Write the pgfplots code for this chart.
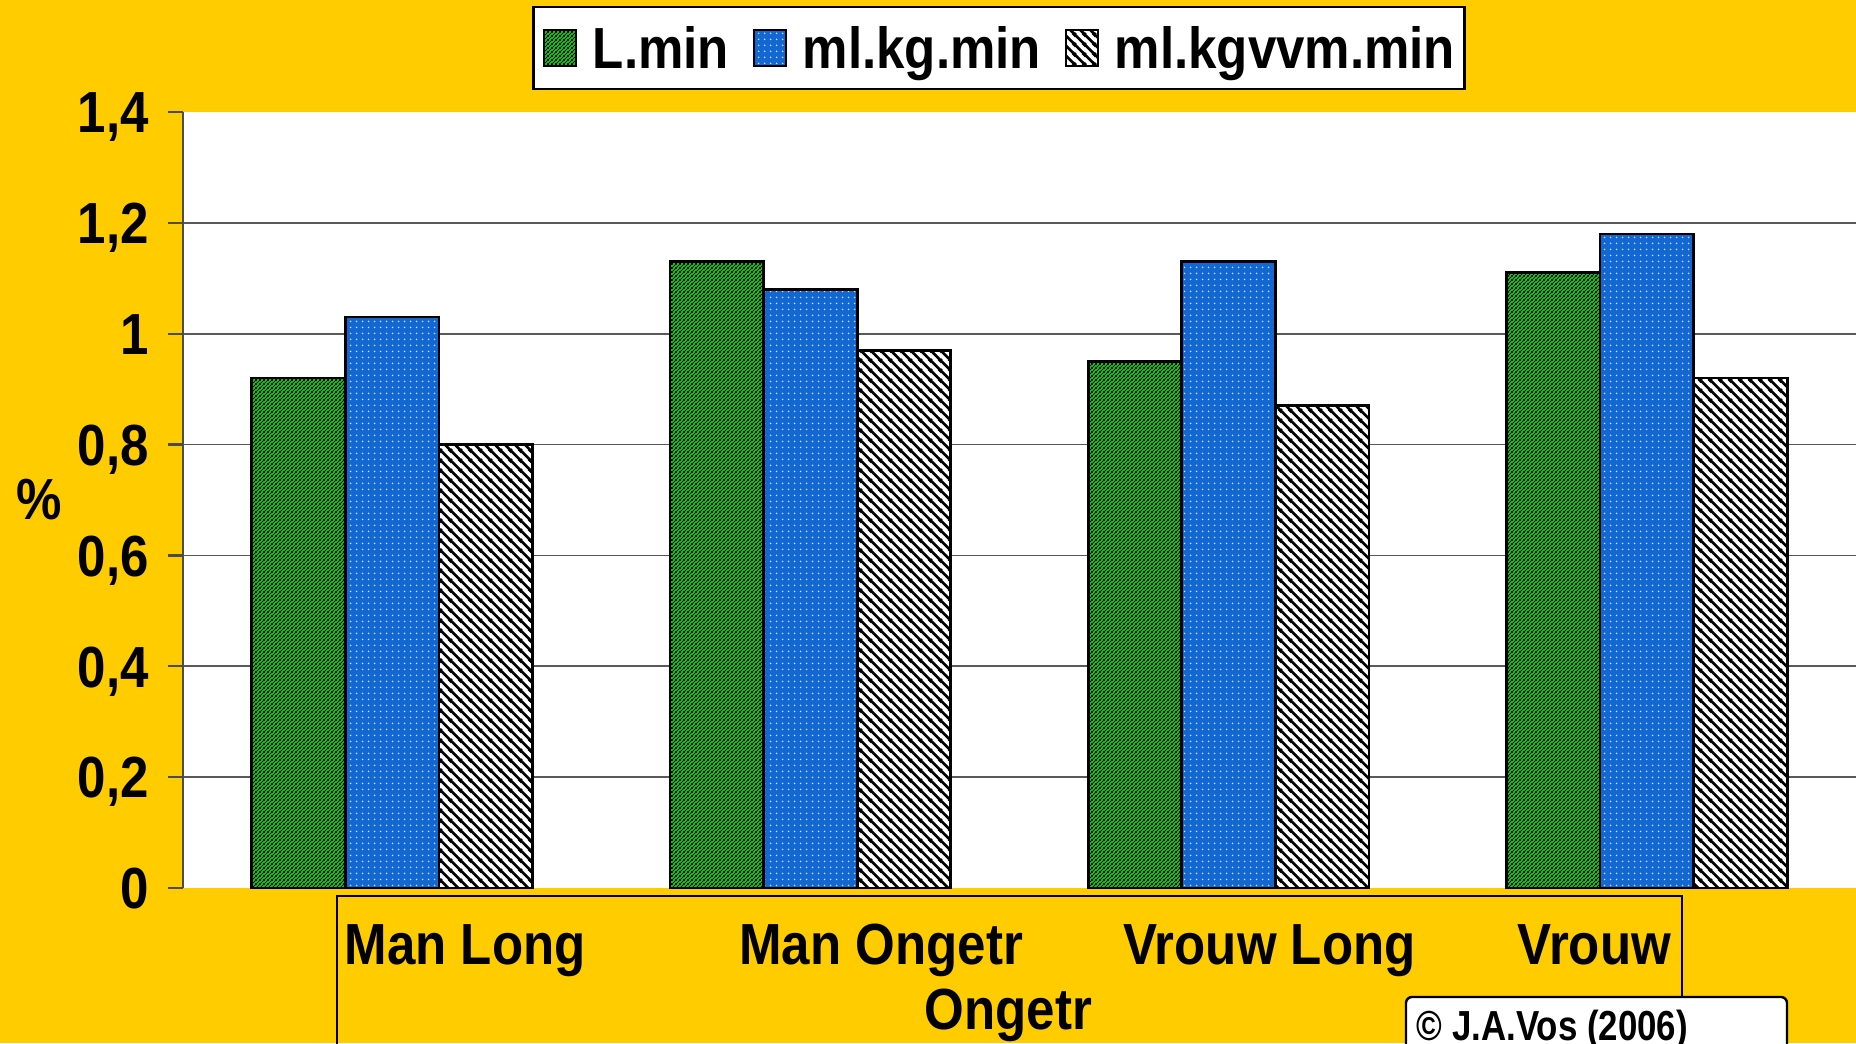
\documentclass[border=0pt]{standalone}
\usepackage{fontspec}
\usepackage{pgfplots}
\pgfplotsset{compat=1.18}
\usetikzlibrary{patterns}
\newfontfamily\lab[FakeStretch=0.88]{Liberation Sans}
\newfontfamily\labc[FakeStretch=0.83]{Liberation Sans}
\newcommand\bigf{\lab\bfseries\fontsize{14.5}{16}\selectfont}
\definecolor{bgy}{RGB}{255,204,0}
\definecolor{grn}{RGB}{20,225,20}
\definecolor{blu}{RGB}{18,104,208}
\pgfdeclarepatternformonly{gstripe}{\pgfqpoint{0pt}{0pt}}{\pgfqpoint{1pt}{1pt}}{\pgfqpoint{1pt}{1pt}}{%
  \pgfsetlinewidth{0.27pt}%
  \pgfpathmoveto{\pgfqpoint{-0.2pt}{-0.2pt}}\pgfpathlineto{\pgfqpoint{1.2pt}{1.2pt}}%
  \pgfpathmoveto{\pgfqpoint{-0.5pt}{0.5pt}}\pgfpathlineto{\pgfqpoint{0.5pt}{1.5pt}}%
  \pgfpathmoveto{\pgfqpoint{0.5pt}{-0.5pt}}\pgfpathlineto{\pgfqpoint{1.5pt}{0.5pt}}%
  \pgfusepath{stroke}}
\pgfdeclarepatternformonly{hstripe}{\pgfqpoint{0pt}{0pt}}{\pgfqpoint{2.4pt}{2.4pt}}{\pgfqpoint{2.4pt}{2.4pt}}{%
  \pgfsetlinewidth{0.7pt}%
  \pgfpathmoveto{\pgfqpoint{-0.3pt}{2.7pt}}\pgfpathlineto{\pgfqpoint{2.7pt}{-0.3pt}}%
  \pgfpathmoveto{\pgfqpoint{-1.2pt}{1.2pt}}\pgfpathlineto{\pgfqpoint{1.2pt}{-1.2pt}}%
  \pgfpathmoveto{\pgfqpoint{1.2pt}{3.6pt}}\pgfpathlineto{\pgfqpoint{3.6pt}{1.2pt}}%
  \pgfusepath{stroke}}
\pgfdeclarepatternformonly{bdots}{\pgfqpoint{0pt}{0pt}}{\pgfqpoint{1.5pt}{1.5pt}}{\pgfqpoint{1.5pt}{1.5pt}}{%
  \pgfpathcircle{\pgfqpoint{0.75pt}{0.75pt}}{0.25pt}%
  \pgfusepath{fill}}
\pgfplotsset{
  gleg/.style={legend image code/.code={\fill[grn] (0pt,-4.5pt) rectangle (8pt,4.5pt); \draw[##1] (0pt,-4.5pt) rectangle (8pt,4.5pt);}},
  bleg/.style={legend image code/.code={\fill[blu] (0pt,-4.5pt) rectangle (8pt,4.5pt); \draw[##1] (0pt,-4.5pt) rectangle (8pt,4.5pt);}},
  wleg/.style={legend image code/.code={\fill[white] (0pt,-4.5pt) rectangle (8pt,4.5pt); \draw[##1] (0pt,-4.5pt) rectangle (8pt,4.5pt);}},
}
\begin{document}
\begin{tikzpicture}
\useasboundingbox (0,0) rectangle (464pt,260.75pt);
\fill[bgy] (0,0) rectangle (464pt,260.75pt);
\begin{axis}[
  at={(45.75pt,38.75pt)}, anchor=south west,
  scale only axis, width=418.25pt, height=194pt,
  xmin=-0.5, xmax=3.5, ymin=0, ymax=1.4,
  axis background/.style={fill=white},
  axis x line=none, axis y line=left,
  axis line style={-, draw=gray!60!black, line width=0.6pt},
  xtick=\empty,
  ytick={0.2,0.4,0.6,0.8,1,1.2},
  extra y ticks={0,1.4},
  extra y tick style={grid=none},
  ymajorgrids, major grid style={gray!70!black, line width=0.45pt},
  tick align=outside, major tick length=3.75pt,
  y tick style={draw=gray!60!black, line width=0.6pt},
  yticklabel style={font=\bigf, anchor=east, inner sep=0pt, xshift=-4.6pt, text height=10.4pt, text depth=0pt,
    /pgf/number format/use comma, /pgf/number format/assume math mode=true},
  legend columns=3,
  legend style={at={(0.4877,1.0825)}, anchor=center, draw=black, line width=0.6pt, fill=white,
    font=\bigf, inner xsep=2.3pt, inner ysep=5pt,
    nodes={inner sep=0pt, text height=10.4pt, text depth=0pt},
    /tikz/every odd column/.append style={column sep=3.85pt},
    /tikz/every even column/.append style={column sep=5.9pt}},
]
% L.min
\addplot[ybar, bar width=23.4pt, bar shift=-23.4pt, fill=grn, draw=none, forget plot]
  coordinates {(0,0.92) (1,1.13) (2,0.95) (3,1.11)};
\addplot[ybar, bar width=23.4pt, bar shift=-23.4pt, pattern=gstripe, pattern color=black, draw=black, line width=0.7pt, gleg]
  coordinates {(0,0.92) (1,1.13) (2,0.95) (3,1.11)};
% ml.kg.min
\addplot[ybar, bar width=23.4pt, bar shift=0pt, fill=blu, draw=none, forget plot]
  coordinates {(0,1.03) (1,1.08) (2,1.13) (3,1.18)};
\addplot[ybar, bar width=23.4pt, bar shift=0pt, pattern=bdots, pattern color=white!80!blu, draw=black, line width=0.7pt, bleg]
  coordinates {(0,1.03) (1,1.08) (2,1.13) (3,1.18)};
% ml.kgvvm.min
\addplot[ybar, bar width=23.4pt, bar shift=23.4pt, fill=white, draw=none, forget plot]
  coordinates {(0,0.80) (1,0.97) (2,0.87) (3,0.92)};
\addplot[ybar, bar width=23.4pt, bar shift=23.4pt, pattern=hstripe, pattern color=black, draw=black, line width=0.7pt, wleg]
  coordinates {(0,0.80) (1,0.97) (2,0.87) (3,0.92)};
\legend{L.min, ml.kg.min, ml.kgvvm.min}
\end{axis}
\node[font=\bigf] at (9.75pt,135.9pt) {\%};
\draw[black, line width=0.4pt] (84.3pt,-3pt) rectangle (420.5pt,36.75pt);
\node[font=\bigf, anchor=base] at (116.3pt,19.6pt) {Man Long};
\node[font=\bigf, anchor=base] at (220.3pt,19.6pt) {Man Ongetr};
\node[font=\bigf, anchor=base] at (317.4pt,19.6pt) {Vrouw Long};
\node[font=\bigf, anchor=base] at (398.6pt,19.6pt) {Vrouw};
\node[font=\bigf, anchor=base] at (252.1pt,3.3pt) {Ongetr};
\draw[fill=white, line width=0.6pt, rounded corners=1.5pt] (351.5pt,-3pt) rectangle (446.75pt,11.5pt);
\node[font=\labc\bfseries\fontsize{10.5}{11}\selectfont, anchor=base west, inner sep=0pt] at (354pt,0.75pt) {© J.A.Vos (2006)};
\end{tikzpicture}
\end{document}
